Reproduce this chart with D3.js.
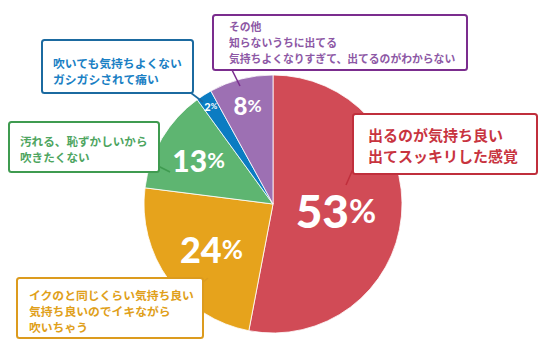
<!DOCTYPE html>
<html><head><meta charset="utf-8">
<script src="https://cdn.jsdelivr.net/npm/d3@7"></script>
<style>
html,body{margin:0;padding:0;background:#fff;}
svg{display:block;}
</style></head>
<body><svg id="c" width="550" height="357"></svg>
<script>
// ---- data ----
const categories = ["出るのが気持ち良い", "イクのと同じくらい気持ち良い", "汚れる、恥ずかしいから", "吹いても気持ちよくない", "その他"];
const values = [53, 24, 13, 2, 8];
const labelLines = [
  ["出るのが気持ち良い", "出てスッキリした感覚"],
  ["イクのと同じくらい気持ち良い", "気持ち良いのでイキながら", "吹いちゃう"],
  ["汚れる、恥ずかしいから", "吹きたくない"],
  ["吹いても気持ちよくない", "ガシガシされて痛い"],
  ["その他", "知らないうちに出てる", "気持ちよくなりすぎて、出てるのがわからない"]
];
const sliceColors = ["#d14b56", "#e6a31c", "#5eb571", "#0b7cc2", "#9d70b3"];
const borderColors = ["#c02f3c", "#dc9b1e", "#3f9b50", "#1b6aa0", "#7b2d8e"];
const textColors = ["#c8343f", "#e0a01a", "#4ea55f", "#1a80c4", "#8d58a5"];

// ---- layout ----
const W = 550, H = 357, cx = 273, cy = 204, R = 129;
const pctLayout = [ {r:0.49, fs:46}, {r:0.59, fs:36}, {r:0.67, fs:30}, {r:0.90, fs:11}, {r:0.79, fs:24} ];
const boxes = [
  {x:353, y:114, w:184, h:60, fs:15, tx:368, ty:[134,155], line:[[353,169],[346,185]]},
  {x:17, y:278, w:186, h:60, fs:11.8, tx:29, ty:[294,310,326], line:[[208,278],[201,284]]},
  {x:9, y:122, w:150, h:50, fs:11.6, tx:20, ty:[141,157], line:[[158,166],[170,172]]},
  {x:42, y:40, w:151, h:53, fs:11.8, tx:53, ty:[62,78], line:[[191,93],[203,102]]},
  {x:213, y:15, w:254, h:55, fs:10.8, tx:229, ty:[26,42,58], line:[[232,70],[240,86]]}
];

const svg = d3.select("#c");
const g = svg.append("g").attr("transform", `translate(${cx},${cy})`);
const pie = d3.pie().sort(null).value(d => d);
const arcs = pie(values);
const arc = d3.arc().innerRadius(0).outerRadius(R);

g.selectAll("path.slice").data(arcs).join("path")
  .attr("class","slice")
  .attr("d", arc)
  .attr("fill", (d,i) => sliceColors[i])
  .attr("stroke", "#fff").attr("stroke-width", 0.8);

// pointer lines
svg.selectAll("line.ptr").data(boxes).join("line")
  .attr("x1", d => d.line[0][0]).attr("y1", d => d.line[0][1])
  .attr("x2", d => d.line[1][0]).attr("y2", d => d.line[1][1])
  .attr("stroke", (d,i) => borderColors[i]).attr("stroke-width", 1.6);

// percentage labels
const pctG = g.selectAll("text.pct").data(arcs).join("text")
  .attr("class","pct")
  .attr("transform", (d,i) => {
    const a = d3.arc().innerRadius(R*pctLayout[i].r).outerRadius(R*pctLayout[i].r);
    const [x,y] = a.centroid(d);
    return `translate(${x},${y})`;
  })
  .attr("text-anchor","middle")
  .attr("dominant-baseline","central")
  .attr("fill","#fff")
  .attr("font-family","Lato, 'Noto Sans', sans-serif")
  .attr("font-weight", 900);
pctG.append("tspan").attr("font-size",(d,i)=>pctLayout[i].fs).text(d => d.data);
pctG.append("tspan").attr("font-size",(d,i)=>pctLayout[i].fs*0.72).attr("font-weight",700).text("%");

// label boxes
const bg = svg.selectAll("g.box").data(boxes).join("g").attr("class","box");
bg.append("rect")
  .attr("x", d => d.x).attr("y", d => d.y).attr("width", d => d.w).attr("height", d => d.h)
  .attr("rx", 2.5)
  .attr("fill", "#fff")
  .attr("stroke", (d,i) => borderColors[i]).attr("stroke-width", 2);
bg.each(function(d,i){
  const sel = d3.select(this);
  labelLines[i].forEach((t,j) => {
    sel.append("text")
      .attr("x", d.tx).attr("y", d.ty[j])
      .attr("dominant-baseline","central")
      .attr("fill", textColors[i])
      .attr("font-family","'Noto Sans CJK JP', sans-serif")
      .attr("font-weight", 700)
      .attr("font-size", d.fs)
      .text(t);
  });
});
</script></body></html>
